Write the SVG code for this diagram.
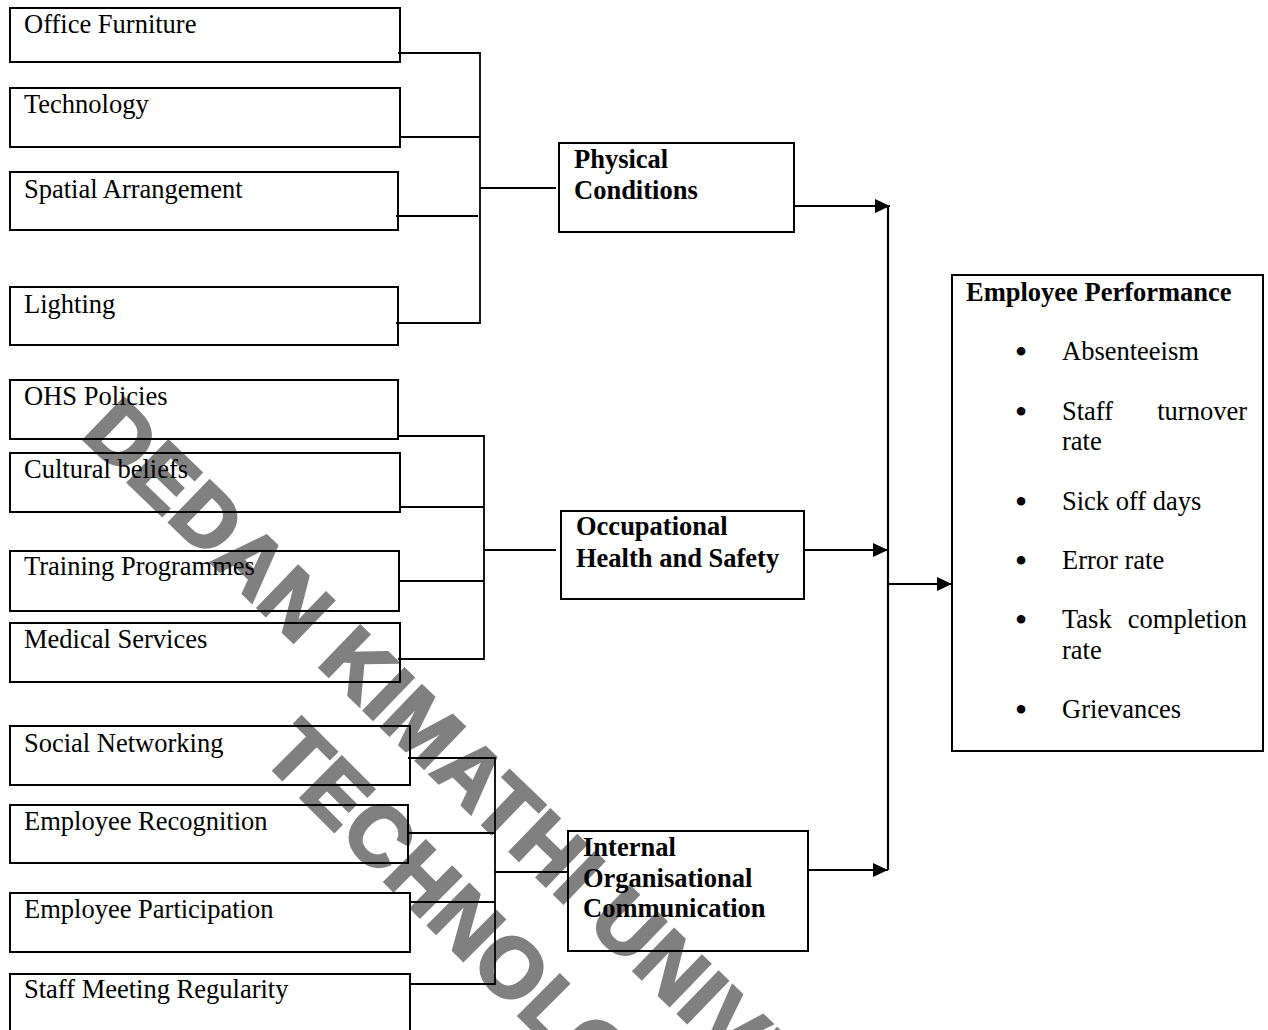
<svg xmlns="http://www.w3.org/2000/svg" width="1268" height="1030" viewBox="0 0 1268 1030">
<style>
  .wm { font-family: "Liberation Sans", Arial, sans-serif; font-weight: bold; font-size: 84px; letter-spacing: 1px; fill: #808080; stroke: #808080; stroke-width: 3; stroke-linejoin: miter; }
  .box { fill: none; stroke: #000; stroke-width: 2; }
  .t { font-family: "Liberation Serif", "Times New Roman", serif; font-size: 26.5px; fill: #000; }
  .b { font-weight: bold; }
  .bul { font-family: "Liberation Serif", "Times New Roman", serif; font-size: 36px; fill: #000; text-anchor: middle; }
  .con { fill: none; stroke: #000; stroke-width: 1.8; }
  .arr { fill: none; stroke: #000; stroke-width: 2.2; }
</style>
<defs>
  <marker id="ah" markerUnits="userSpaceOnUse" markerWidth="15" markerHeight="14" refX="15" refY="7" orient="auto">
    <path d="M0,0 L15,7 L0,14 Z" fill="#000"/>
  </marker>
</defs>
<rect width="1268" height="1030" fill="#fff"/>
<g id="watermark">
  <text class="wm" transform="translate(80,436) rotate(44)">DEDAN KIMATHI UNIVE</text>
  <text class="wm" transform="translate(260,757) rotate(45)">TECHNOLO</text>
</g>
<g id="connectors">
  <polyline class="con" points="398,53 480,53 480,323 396,323"/>
  <line class="con" x1="400" y1="137" x2="480" y2="137"/>
  <line class="con" x1="396" y1="216" x2="478" y2="216"/>
  <line class="con" x1="480" y1="188" x2="556" y2="188"/>
  <polyline class="con" points="398,436 484,436 484,659 398,659"/>
  <line class="con" x1="400" y1="507" x2="484" y2="507"/>
  <line class="con" x1="399" y1="581" x2="484" y2="581"/>
  <line class="con" x1="484" y1="550" x2="556" y2="550"/>
  <polyline class="con" points="408,758 495,758 495,984 410,984"/>
  <line class="con" x1="408" y1="833" x2="495" y2="833"/>
  <line class="con" x1="410" y1="902" x2="495" y2="902"/>
  <line class="con" x1="495" y1="872" x2="568" y2="872"/>
  <line class="arr" x1="794" y1="206" x2="890" y2="206" marker-end="url(#ah)"/>
  <line class="arr" x1="804" y1="550" x2="888" y2="550" marker-end="url(#ah)"/>
  <line class="arr" x1="808" y1="870" x2="888" y2="870" marker-end="url(#ah)"/>
  <line class="arr" x1="888" y1="206" x2="888" y2="870"/>
  <line class="arr" x1="888" y1="584" x2="952" y2="584" marker-end="url(#ah)"/>
</g>
<g id="office-furniture"><rect class="box" x="10" y="8" width="390" height="54"/><text class="t" x="24" y="33">Office Furniture</text></g>
<g id="technology"><rect class="box" x="10" y="88" width="390" height="59"/><text class="t" x="24" y="113">Technology</text></g>
<g id="spatial-arrangement"><rect class="box" x="10" y="172" width="388" height="58"/><text class="t" x="24" y="198">Spatial Arrangement</text></g>
<g id="lighting"><rect class="box" x="10" y="287" width="388" height="58"/><text class="t" x="24" y="313">Lighting</text></g>
<g id="ohs-policies"><rect class="box" x="10" y="380" width="388" height="59"/><text class="t" x="24" y="405">OHS Policies</text></g>
<g id="cultural-beliefs"><rect class="box" x="10" y="453" width="390" height="59"/><text class="t" x="24" y="478">Cultural beliefs</text></g>
<g id="training-programmes"><rect class="box" x="10" y="551" width="389" height="60"/><text class="t" x="24" y="575">Training Programmes</text></g>
<g id="medical-services"><rect class="box" x="10" y="623" width="390" height="59"/><text class="t" x="24" y="648">Medical Services</text></g>
<g id="social-networking"><rect class="box" x="10" y="726" width="400" height="59"/><text class="t" x="24" y="752">Social Networking</text></g>
<g id="employee-recognition"><rect class="box" x="10" y="805" width="398" height="58"/><text class="t" x="24" y="830">Employee Recognition</text></g>
<g id="employee-participation"><rect class="box" x="10" y="893" width="400" height="59"/><text class="t" x="24" y="918">Employee Participation</text></g>
<g id="staff-meeting-regularity"><rect class="box" x="10" y="974" width="400" height="70"/><text class="t" x="24" y="998">Staff Meeting Regularity</text></g>
<g id="physical-conditions"><rect class="box" x="559" y="143" width="235" height="89"/><text class="t b" x="574" y="168">Physical</text><text class="t b" x="574" y="199">Conditions</text></g>
<g id="occupational-health-safety"><rect class="box" x="561" y="511" width="243" height="88"/><text class="t b" x="576" y="535">Occupational</text><text class="t b" x="576" y="567">Health and Safety</text></g>
<g id="internal-communication"><rect class="box" x="568" y="831" width="240" height="120"/><text class="t b" x="583" y="856">Internal</text><text class="t b" x="583" y="887">Organisational</text><text class="t b" x="583" y="917">Communication</text></g>
<g id="employee-performance">
  <rect class="box" x="952" y="275" width="311" height="476"/>
  <text class="t b" x="966" y="301">Employee Performance</text>
  <text class="bul" x="1021" y="364">•</text><text class="t" x="1062" y="360">Absenteeism</text>
  <text class="bul" x="1021" y="424">•</text><text class="t" x="1062" y="420">Staff</text><text class="t" x="1247" y="420" text-anchor="end">turnover</text>
  <text class="t" x="1062" y="450">rate</text>
  <text class="bul" x="1021" y="514">•</text><text class="t" x="1062" y="510">Sick off days</text>
  <text class="bul" x="1021" y="573">•</text><text class="t" x="1062" y="569">Error rate</text>
  <text class="bul" x="1021" y="632">•</text><text class="t" x="1062" y="628">Task</text><text class="t" x="1247" y="628" text-anchor="end">completion</text>
  <text class="t" x="1062" y="659">rate</text>
  <text class="bul" x="1021" y="722">•</text><text class="t" x="1062" y="718">Grievances</text>
</g>
</svg>
